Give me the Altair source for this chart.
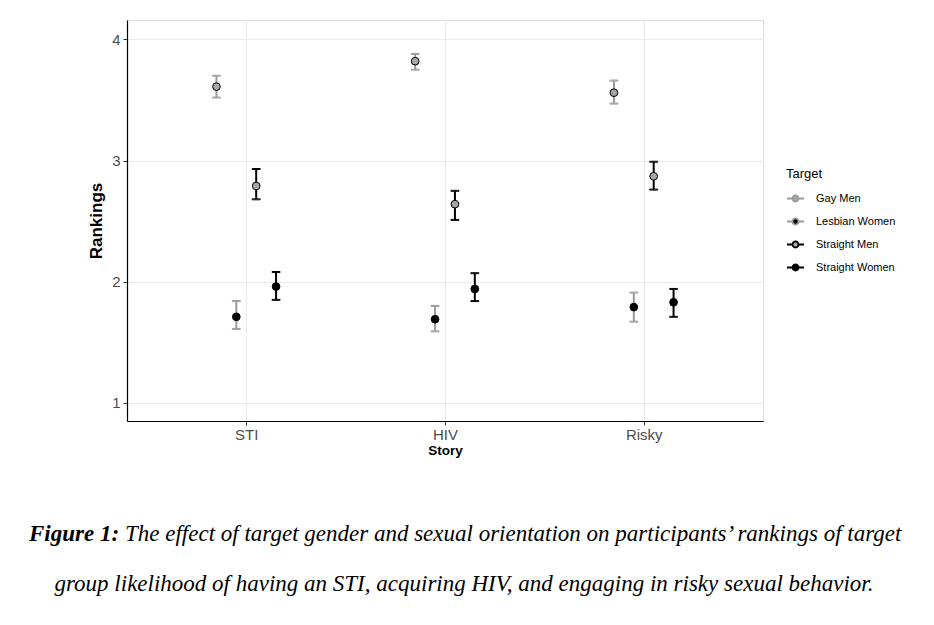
import json
import altair as alt
import pandas as pd

# ---- data ----
stories = ["STI", "HIV", "Risky"]
targets = ["Gay Men", "Lesbian Women", "Straight Men", "Straight Women"]

gay_mean = [3.61, 3.82, 3.56]
gay_lo = [3.52, 3.75, 3.47]
gay_hi = [3.70, 3.88, 3.66]

lesbian_mean = [1.71, 1.69, 1.79]
lesbian_lo = [1.61, 1.59, 1.67]
lesbian_hi = [1.84, 1.80, 1.91]

smen_mean = [2.79, 2.64, 2.87]
smen_lo = [2.68, 2.51, 2.76]
smen_hi = [2.93, 2.75, 2.99]

swomen_mean = [1.96, 1.94, 1.83]
swomen_lo = [1.85, 1.84, 1.71]
swomen_hi = [2.08, 2.07, 1.94]

caption_bold = "Figure 1:"
caption_line1 = "The effect of target gender and sexual orientation on participants\u2019 rankings of target"
caption_line2 = "group likelihood of having an STI, acquiring HIV, and engaging in risky sexual behavior."

rows = []
for t, m, lo, hi in zip(
    targets,
    [gay_mean, lesbian_mean, smen_mean, swomen_mean],
    [gay_lo, lesbian_lo, smen_lo, swomen_lo],
    [gay_hi, lesbian_hi, smen_hi, swomen_hi],
):
    for s, mv, lv, hv in zip(stories, m, lo, hi):
        rows.append({"Story": s, "Target": t, "mean": mv, "lo": lv, "hi": hv})
df = pd.DataFrame(rows)

dodge = [-0.15, -0.05, 0.05, 0.15]
xcalc = (
    f"indexof({json.dumps(stories)}, datum.Story) + 1 + "
    f"{json.dumps(dodge)}[indexof({json.dumps(targets)}, datum.Target)]"
)
label_expr = f"{json.dumps(stories)}[datum.value - 1]"

FONT = "Liberation Sans"
SERIF = "Liberation Serif"

x_enc = alt.X(
    "xpos:Q",
    scale=alt.Scale(domain=[0.4, 3.6], nice=False, zero=False),
    axis=alt.Axis(
        values=[1, 2, 3], labelExpr=label_expr, title="Story",
        grid=True, gridColor="#ebebeb", gridWidth=1,
        domainColor="#000000", domainWidth=1.2,
        tickColor="#333333", tickSize=4,
        labelFont=FONT, labelFontSize=15, labelColor="#4d4d4d", labelPadding=2,
        titleFont=FONT, titleFontSize=13.5, titleFontWeight="bold", titleColor="#000000",
        titlePadding=1,
    ),
)
y_scale = alt.Scale(domain=[0.85, 4.16], nice=False, zero=False)
y_axis = alt.Axis(
    values=[1, 2, 3, 4], format="d", title="Rankings",
    grid=True, gridColor="#ebebeb", gridWidth=1,
    domainColor="#000000", domainWidth=1.2,
    tickColor="#333333", tickSize=4,
    labelFont=FONT, labelFontSize=15, labelColor="#4d4d4d", labelPadding=3,
    titleFont=FONT, titleFontSize=17, titleFontWeight="bold", titleColor="#000000",
    titlePadding=6,
)

legend_path = "M-1,0H-0.36M0.36,0H1M-0.36,0A0.36,0.36,0,1,1,0.36,0A0.36,0.36,0,1,1,-0.36,0Z"

stroke_scale = alt.Scale(domain=targets, range=["#9a9a9a", "#9a9a9a", "#000000", "#000000"])
fill_scale = alt.Scale(domain=targets, range=["#a6a6a6", "#000000", "#a6a6a6", "#000000"])

legend = alt.Legend(
    title="Target", orient="none", legendX=659, legendY=148,
    symbolType=legend_path, symbolSize=290, symbolStrokeWidth=1.8,
    titleFont=FONT, titleFontSize=13, titleFontWeight="normal", titleColor="#000000",
    labelFont=FONT, labelFontSize=11, labelColor="#000000", labelOffset=11,
    rowPadding=6, titlePadding=8,
)

base = alt.Chart(df).transform_calculate(xpos=xcalc)

stroke_enc = alt.Stroke("Target:N", scale=stroke_scale, legend=legend)
fill_enc = alt.Fill("Target:N", scale=fill_scale, legend=legend)

bars = base.mark_rule(strokeWidth=2, opacity=1).encode(
    x=x_enc,
    y=alt.Y("lo:Q", scale=y_scale, axis=y_axis),
    y2="hi:Q",
    stroke=stroke_enc,
)
caps_lo = base.mark_tick(thickness=1, size=8, orient="horizontal", filled=False,
                         strokeWidth=1, opacity=1).encode(
    x="xpos:Q", y="lo:Q", stroke=stroke_enc,
)
caps_hi = base.mark_tick(thickness=1, size=8, orient="horizontal", filled=False,
                         strokeWidth=1, opacity=1).encode(
    x="xpos:Q", y="hi:Q", stroke=stroke_enc,
)
points = base.mark_point(filled=True, size=60, stroke="#000000", strokeWidth=1, opacity=1).encode(
    x="xpos:Q", y="mean:Q",
    fill=fill_enc,
)

cap1a = alt.Chart(pd.DataFrame({"t": [caption_bold]})).mark_text(
    font=SERIF, fontSize=23, fontStyle="italic", fontWeight="bold",
    align="left", baseline="alphabetic", color="#000000",
).encode(text="t:N", x=alt.value(-98), y=alt.value(521))
cap1b = alt.Chart(pd.DataFrame({"t": [caption_line1]})).mark_text(
    font=SERIF, fontSize=23, fontStyle="italic",
    align="left", baseline="alphabetic", color="#000000",
).encode(text="t:N", x=alt.value(-2), y=alt.value(521))
cap2 = alt.Chart(pd.DataFrame({"t": [caption_line2]})).mark_text(
    font=SERIF, fontSize=23, fontStyle="italic",
    align="center", baseline="alphabetic", color="#000000",
).encode(text="t:N", x=alt.value(337), y=alt.value(571))

chart = alt.layer(bars, caps_lo, caps_hi, points, cap1a, cap1b, cap2).properties(
    width=636, height=401,
    autosize=alt.AutoSizeParams(type="none"),
    padding={"left": 119, "top": 12, "right": 160, "bottom": 190},
).configure_view(strokeWidth=0).configure(background="#ffffff")

chart.save("out.html", embed_options={"renderer": "svg", "actions": False})
